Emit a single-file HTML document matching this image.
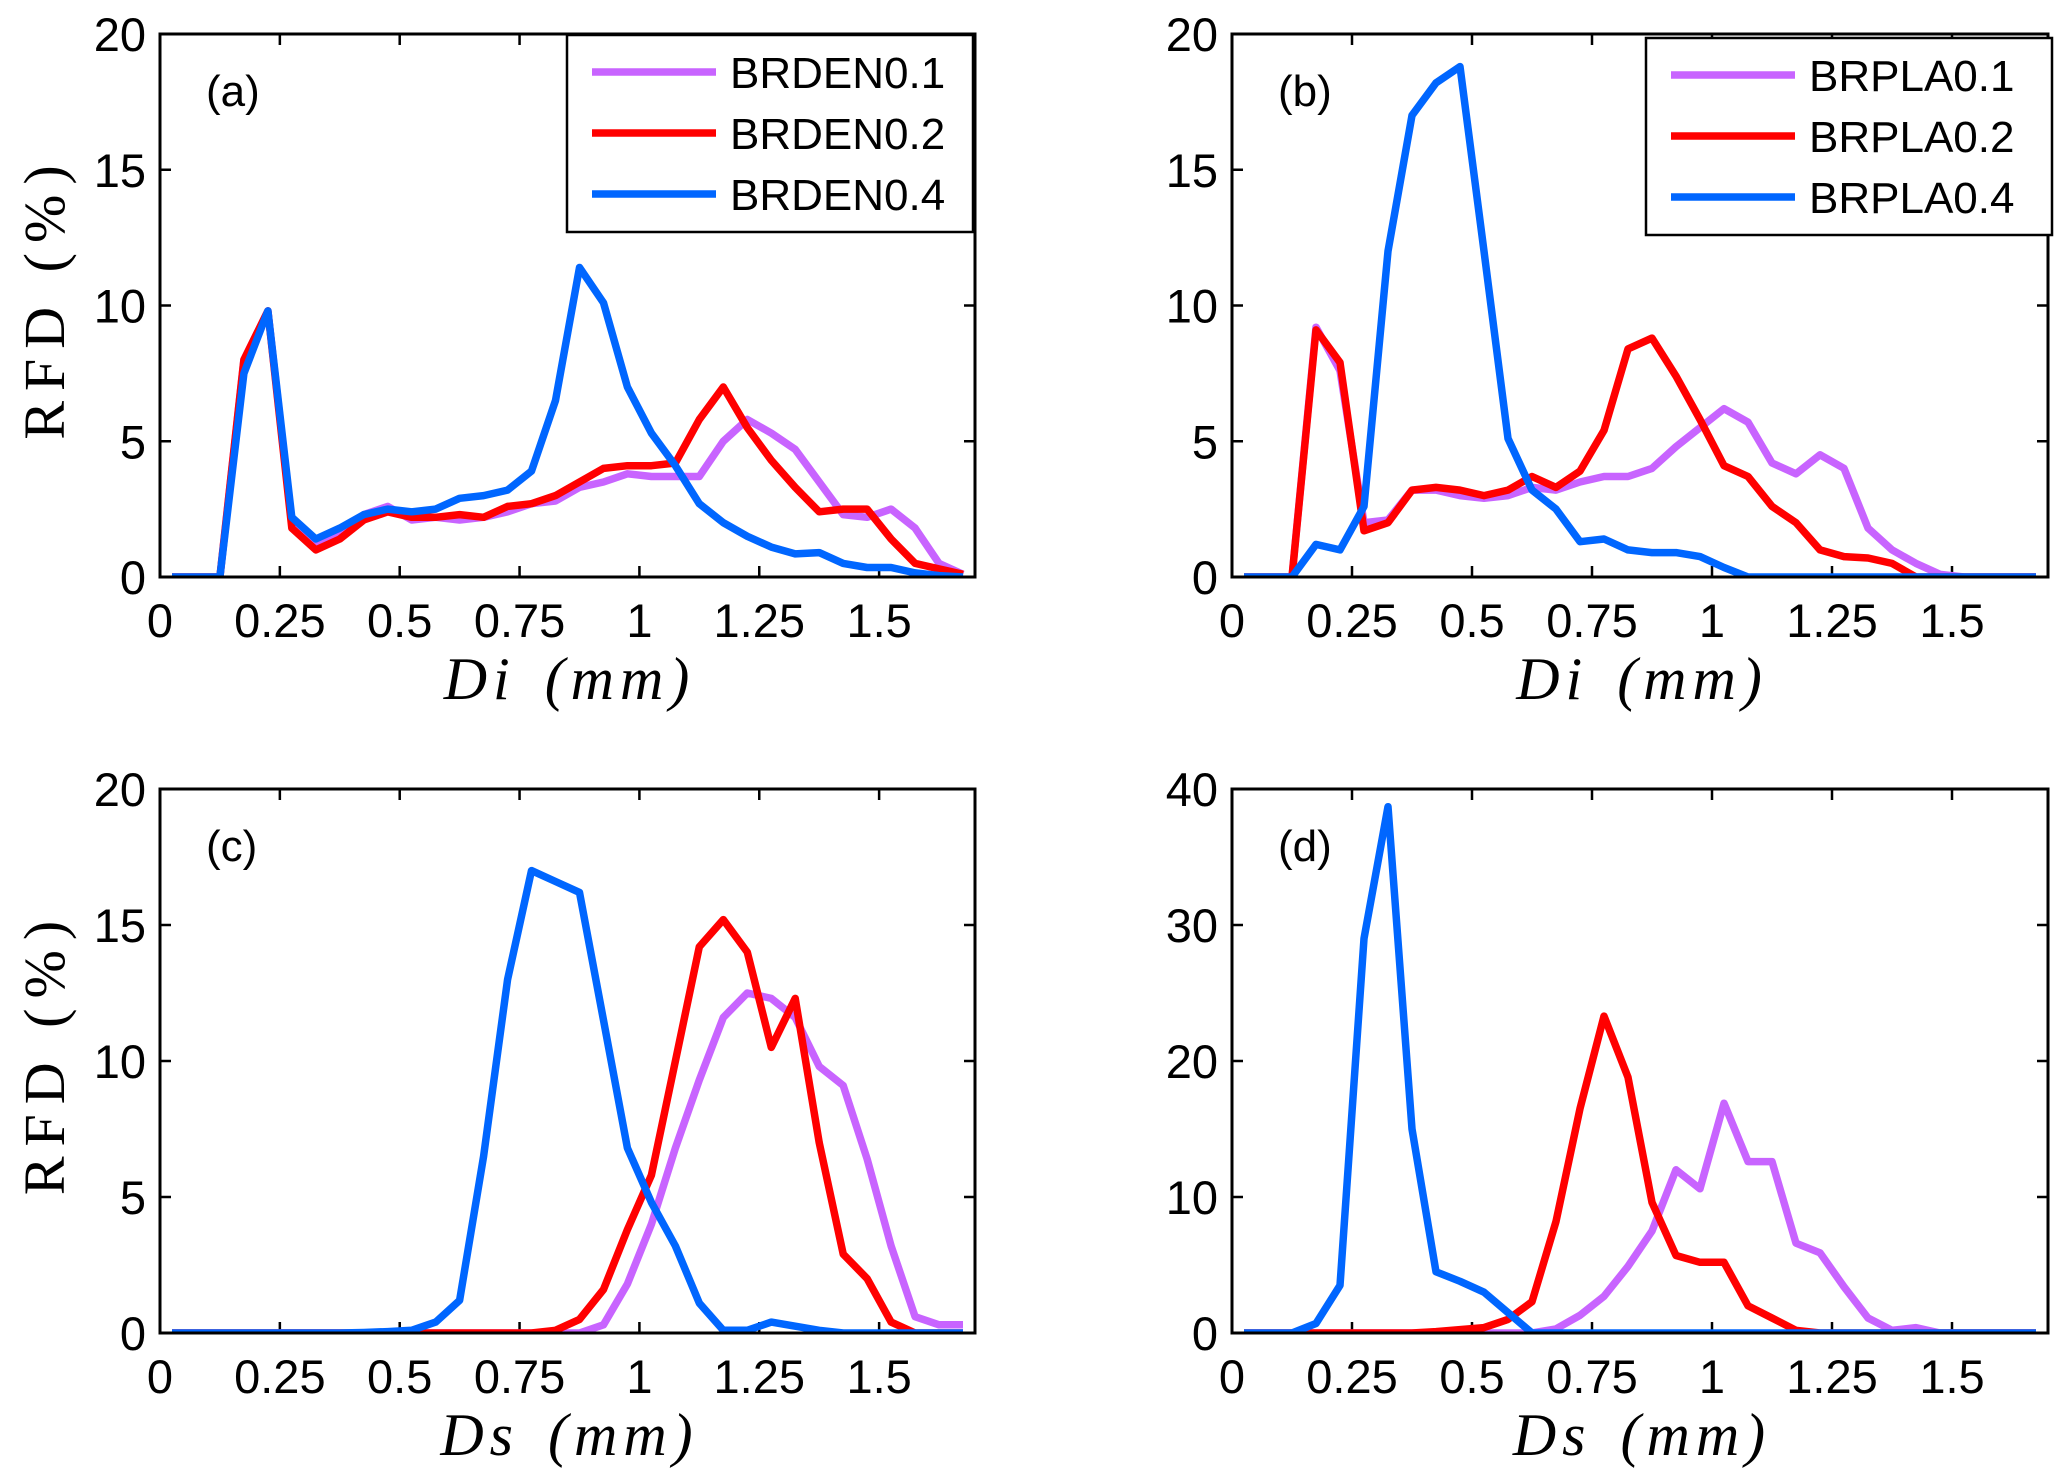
<!DOCTYPE html>
<html><head><meta charset="utf-8">
<style>
html,body{margin:0;padding:0;background:#fff;}
svg{display:block;}
text{font-family:"Liberation Sans",sans-serif;}
</style></head>
<body>
<svg id="fig" width="2067" height="1480" viewBox="0 0 2067 1480" xmlns="http://www.w3.org/2000/svg"></svg>
<script>
// ---- data ----
const xCenters = [0.025,0.075,0.125,0.175,0.225,0.275,0.325,0.375,0.425,0.475,0.525,0.575,0.625,0.675,0.725,0.775,0.825,0.875,0.925,0.975,1.025,1.075,1.125,1.175,1.225,1.275,1.325,1.375,1.425,1.475,1.525,1.575,1.625,1.675];
const xTicks = [0,0.25,0.5,0.75,1,1.25,1.5];
const xTickLabels = ["0","0.25","0.5","0.75","1","1.25","1.5"];
const yTicks20 = [0,5,10,15,20];
const yTicks40 = [0,10,20,30,40];
const legendA = ["BRDEN0.1","BRDEN0.2","BRDEN0.4"];
const legendB = ["BRPLA0.1","BRPLA0.2","BRPLA0.4"];

const aP = [0,0,0,8,9.8,2,1.2,1.6,2.3,2.6,2.1,2.2,2.1,2.2,2.4,2.7,2.8,3.3,3.5,3.8,3.7,3.7,3.7,5.0,5.8,5.3,4.7,3.5,2.3,2.2,2.5,1.8,0.5,0.1];
const aR = [0,0,0,8.0,9.8,1.8,1.0,1.4,2.1,2.4,2.2,2.2,2.3,2.2,2.6,2.7,3.0,3.5,4.0,4.1,4.1,4.2,5.8,7.0,5.5,4.3,3.3,2.4,2.5,2.5,1.4,0.5,0.3,0.1];
const aB = [0,0,0,7.5,9.8,2.2,1.4,1.8,2.3,2.5,2.4,2.5,2.9,3.0,3.2,3.9,6.5,11.4,10.1,7.0,5.3,4.1,2.7,2.0,1.5,1.1,0.85,0.9,0.5,0.35,0.35,0.15,0.05,0];

const bP = [0,0,0,9.2,7.6,2,2.1,3.2,3.2,3.0,2.9,3.0,3.3,3.2,3.5,3.7,3.7,4.0,4.8,5.5,6.2,5.7,4.2,3.8,4.5,4.0,1.8,1.0,0.5,0.1,0,0,0,0];
const bR = [0,0,0,9.1,7.9,1.7,2.0,3.2,3.3,3.2,3.0,3.2,3.7,3.3,3.9,5.4,8.4,8.8,7.4,5.8,4.1,3.7,2.6,2.0,1.0,0.75,0.7,0.5,0,0,0,0,0,0];
const bB = [0,0,0,1.2,1.0,2.6,12,17,18.2,18.8,12,5.1,3.2,2.5,1.3,1.4,1.0,0.9,0.9,0.75,0.35,0,0,0,0,0,0,0,0,0,0,0,0,0];

const cP = [0,0,0,0,0,0,0,0,0,0,0,0,0,0,0,0,0,0,0.3,1.8,4,6.8,9.3,11.6,12.5,12.3,11.6,9.8,9.1,6.4,3.2,0.6,0.3,0.3];
const cR = [0,0,0,0,0,0,0,0,0,0,0,0,0,0,0,0,0.1,0.5,1.6,3.8,5.8,10,14.2,15.2,14,10.5,12.3,7,2.9,2.0,0.4,0,0,0];
const cB = [0,0,0,0,0,0,0,0,0.02,0.05,0.1,0.4,1.2,6.5,13,17,16.6,16.2,11.5,6.8,4.8,3.2,1.1,0.1,0.1,0.4,0.25,0.1,0,0,0,0,0,0];

const dP = [0,0,0,0,0,0,0,0,0,0,0,0,0,0.3,1.3,2.7,4.9,7.5,12,10.6,16.9,12.6,12.6,6.6,5.9,3.4,1.1,0.2,0.4,0,0,0,0,0];
const dR = [0,0,0,0,0,0,0,0,0.1,0.25,0.4,1.0,2.3,8.2,16.5,23.3,18.8,9.6,5.7,5.2,5.2,2.0,1.1,0.2,0,0,0,0,0,0,0,0,0,0];
const dB = [0,0,0,0.7,3.5,29,38.7,15,4.5,3.8,3.0,1.5,0,0,0,0,0,0,0,0,0,0,0,0,0,0,0,0,0,0,0,0,0,0];

const COLORS = ["#c864ff","#ff0000","#0066ff"];
const NS = "http://www.w3.org/2000/svg";
const svg = document.getElementById("fig");

function mk(tag, attrs, parent){
  const e = document.createElementNS(NS, tag);
  for (const k in attrs) e.setAttribute(k, attrs[k]);
  (parent||svg).appendChild(e);
  return e;
}

function panel(id, L, R, T, B, ymax, yticks, series, label, xtitle, showY, legend){
  const g = mk("g", {});
  
  
  const xs = v => L + v / 1.7 * (R - L);
  const ys = v => B - v / ymax * (B - T);
  const cp = mk("clipPath", {id:"clip"+id}, g);
  mk("rect", {x:L, y:T, width:R-L, height:B-T}, cp);
  xTicks.forEach((t,i)=>{
    const x = xs(t);
    const tk = mk("path", {d:`M${x},${B}V${B-11}M${x},${T}V${T+11}`, stroke:"#000","stroke-width":2.5}, g);
    
    
    const tl = mk("text", {x:x, y:B+60, "font-size":47, "text-anchor":"middle"}, g);
    tl.textContent = xTickLabels[i];
    
    
  });
  yticks.forEach(t=>{
    const y = ys(t);
    const tk = mk("path", {d:`M${L},${y}H${L+11}M${R},${y}H${R-11}`, stroke:"#000","stroke-width":2.5}, g);
    
    
    const tl = mk("text", {x:L-14, y:y+17, "font-size":47, "text-anchor":"end"}, g);
    tl.textContent = String(t);
    
    
  });
  const sg = mk("g", {"clip-path":`url(#clip${id})`}, g);
  series.forEach((s,k)=>{
    const d = s.map((v,i)=>(i?"L":"M")+xs(xCenters[i]).toFixed(1)+","+ys(v).toFixed(1)).join("");
    const p = mk("path", {d:d, fill:"none", stroke:COLORS[k], "stroke-width":7.5, "stroke-linejoin":"round"}, sg);
    
    
  });
  const fr = mk("rect", {x:L, y:T, width:R-L, height:B-T, fill:"none", stroke:"#000", "stroke-width":3}, g);
  
  
  const pl = mk("text", {x:L+46, y:T+72, "font-size":44}, g);
  pl.textContent = label;
  
  
  const xt = mk("text", {x:(L+R)/2 + 2, y:B+122, "font-size":60, "text-anchor":"middle", "font-style":"italic", style:"font-family:'Liberation Serif',serif;letter-spacing:6px;word-spacing:8px"}, g);
  xt.textContent = xtitle;
  
  
  if (showY){
    const cy = (T+B)/2 - 8;
    const yt = mk("text", {x:0, y:0, "font-size":58, "text-anchor":"middle", transform:`translate(64,${cy}) rotate(-90)`, style:"font-family:'Liberation Serif',serif;letter-spacing:10px"}, g);
    yt.textContent = "RFD (%)";
    
    
  }
  if (legend){
    const lg = mk("g", {}, g);
    
    
    const lx = legend.x, ly = legend.y;
    mk("rect", {x:lx, y:ly, width:406, height:197, fill:"#fff", stroke:"#000", "stroke-width":2.5}, lg);
    legend.names.forEach((n,k)=>{
      const yy = ly + 37 + k*61;
      const ln = mk("line", {x1:lx+25, x2:lx+149, y1:yy, y2:yy, stroke:COLORS[k], "stroke-width":7.5}, lg);
      
      
      const t = mk("text", {x:lx+163, y:yy+16, "font-size":44}, lg);
      t.textContent = n;
      
      
    });
  }
}

panel("a", 160, 975, 34, 577, 20, yTicks20, [aP,aR,aB], "(a)", "Di (mm)", true, {x:567, y:35, names:legendA});
panel("b", 1232, 2048, 34, 577, 20, yTicks20, [bP,bR,bB], "(b)", "Di (mm)", false, {x:1646, y:38, names:legendB});
panel("c", 160, 975, 789, 1333, 20, yTicks20, [cP,cR,cB], "(c)", "Ds (mm)", true, null);
panel("d", 1232, 2048, 789, 1333, 40, yTicks40, [dP,dR,dB], "(d)", "Ds (mm)", false, null);
</script>
</body></html>
